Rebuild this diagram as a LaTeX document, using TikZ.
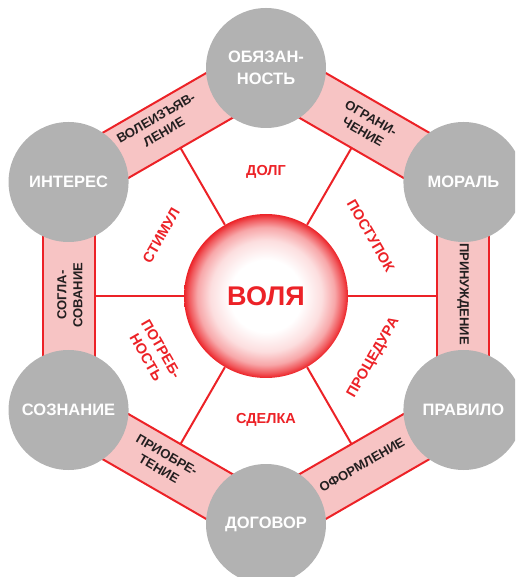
\documentclass[tikz,border=0pt]{standalone}
\usepackage{fontspec}
\setmainfont{Liberation Sans}
\definecolor{vred}{RGB}{236,34,39}
\definecolor{vpink}{RGB}{247,196,196}
\definecolor{vgray}{RGB}{178,178,178}
\definecolor{vtext}{RGB}{35,31,32}
\pgfdeclareradialshading{volya}{\pgfpoint{0bp}{0bp}}{color(0bp)=(white); color(11bp)=(white); color(17bp)=(vred!15); color(21bp)=(vred!40); color(23.5bp)=(vred!75); color(25bp)=(vred); color(50bp)=(vred)}
\tikzset{
  redline/.style={draw=vred, line width=2pt},
  outer/.style={circle, fill=vgray, minimum size=120pt, inner sep=0pt, text=white,
    font=\bfseries\fontsize{16.5}{22}\selectfont, align=center},
  spokelbl/.style={text=vred, font=\bfseries\fontsize{14.5}{17.5}\selectfont, align=center, inner sep=0pt},
  bandlbl/.style={text=vtext, font=\bfseries\fontsize{13}{16}\selectfont, align=center, inner sep=0pt},
}
\begin{document}
\begin{tikzpicture}[x=1pt,y=1pt]
\useasboundingbox (-266,-281) rectangle (249,296);
\clip (-266,-281) rectangle (249,296);
% bands along the hexagon sides
\foreach \a in {0,60,...,300}{
  \begin{scope}[rotate=\a]
    \fill[vpink] (171,-114) rectangle (223,114);
    \draw[redline] (171,-114) -- (171,114) (223,-114) -- (223,114);
  \end{scope}
}
% centre
\node[circle, minimum size=164pt, inner sep=0pt, shading=volya, text=vred,
      font=\bfseries\fontsize{27}{30}\selectfont] (V) at (0,0) {ВОЛЯ};
% spokes
\foreach \a in {0,60,...,300}{
  \coordinate (s\a) at (\a:171);
  \draw[redline] (V.\a) -- (s\a);
}
% outer circles
\node[outer] (obl) at (90:228) {ОБЯЗАН-\\НОСТЬ};
\node[outer] (int) at (150:228) {ИНТЕРЕС};
\node[outer] (mor) at (30:228) {МОРАЛЬ};
\node[outer] (soz) at (210:228) {СОЗНАНИЕ};
\node[outer] (pra) at (330:228) {ПРАВИЛО};
\node[outer] (dog) at (270:228) {ДОГОВОР};
% sector labels
\node[spokelbl] (dolg) at (0,124) {ДОЛГ};
\node[spokelbl, rotate=60] (stim) at (150:121) {СТИМУЛ};
\node[spokelbl, rotate=-60] (post) at (30:121) {ПОСТУПОК};
\node[spokelbl, rotate=-60] (potr) at (207:126) {ПОТРЕБ-\\НОСТЬ};
\node[spokelbl, rotate=60] (proc) at (330:124) {ПРОЦЕДУРА};
\node[spokelbl] (sdel) at (0,-124) {СДЕЛКА};
% band labels
\node[bandlbl, rotate=30] (b1) at (-106,171) {ВОЛЕИЗЪЯВ-\\ЛЕНИЕ};
\node[bandlbl, rotate=-30] (b2) at (101,171) {ОГРАНИ-\\ЧЕНИЕ};
\node[bandlbl, rotate=-90] (b3) at (197,2) {ПРИНУЖДЕНИЕ};
\node[bandlbl, rotate=90] (b4) at (-196,1) {СОГЛА-\\СОВАНИЕ};
\node[bandlbl, rotate=-30] (b5) at (-103,-166) {ПРИОБРЕ-\\ТЕНИЕ};
\node[bandlbl, rotate=30] (b6) at (96,-169) {ОФОРМЛЕНИЕ};
\end{tikzpicture}
\end{document}
